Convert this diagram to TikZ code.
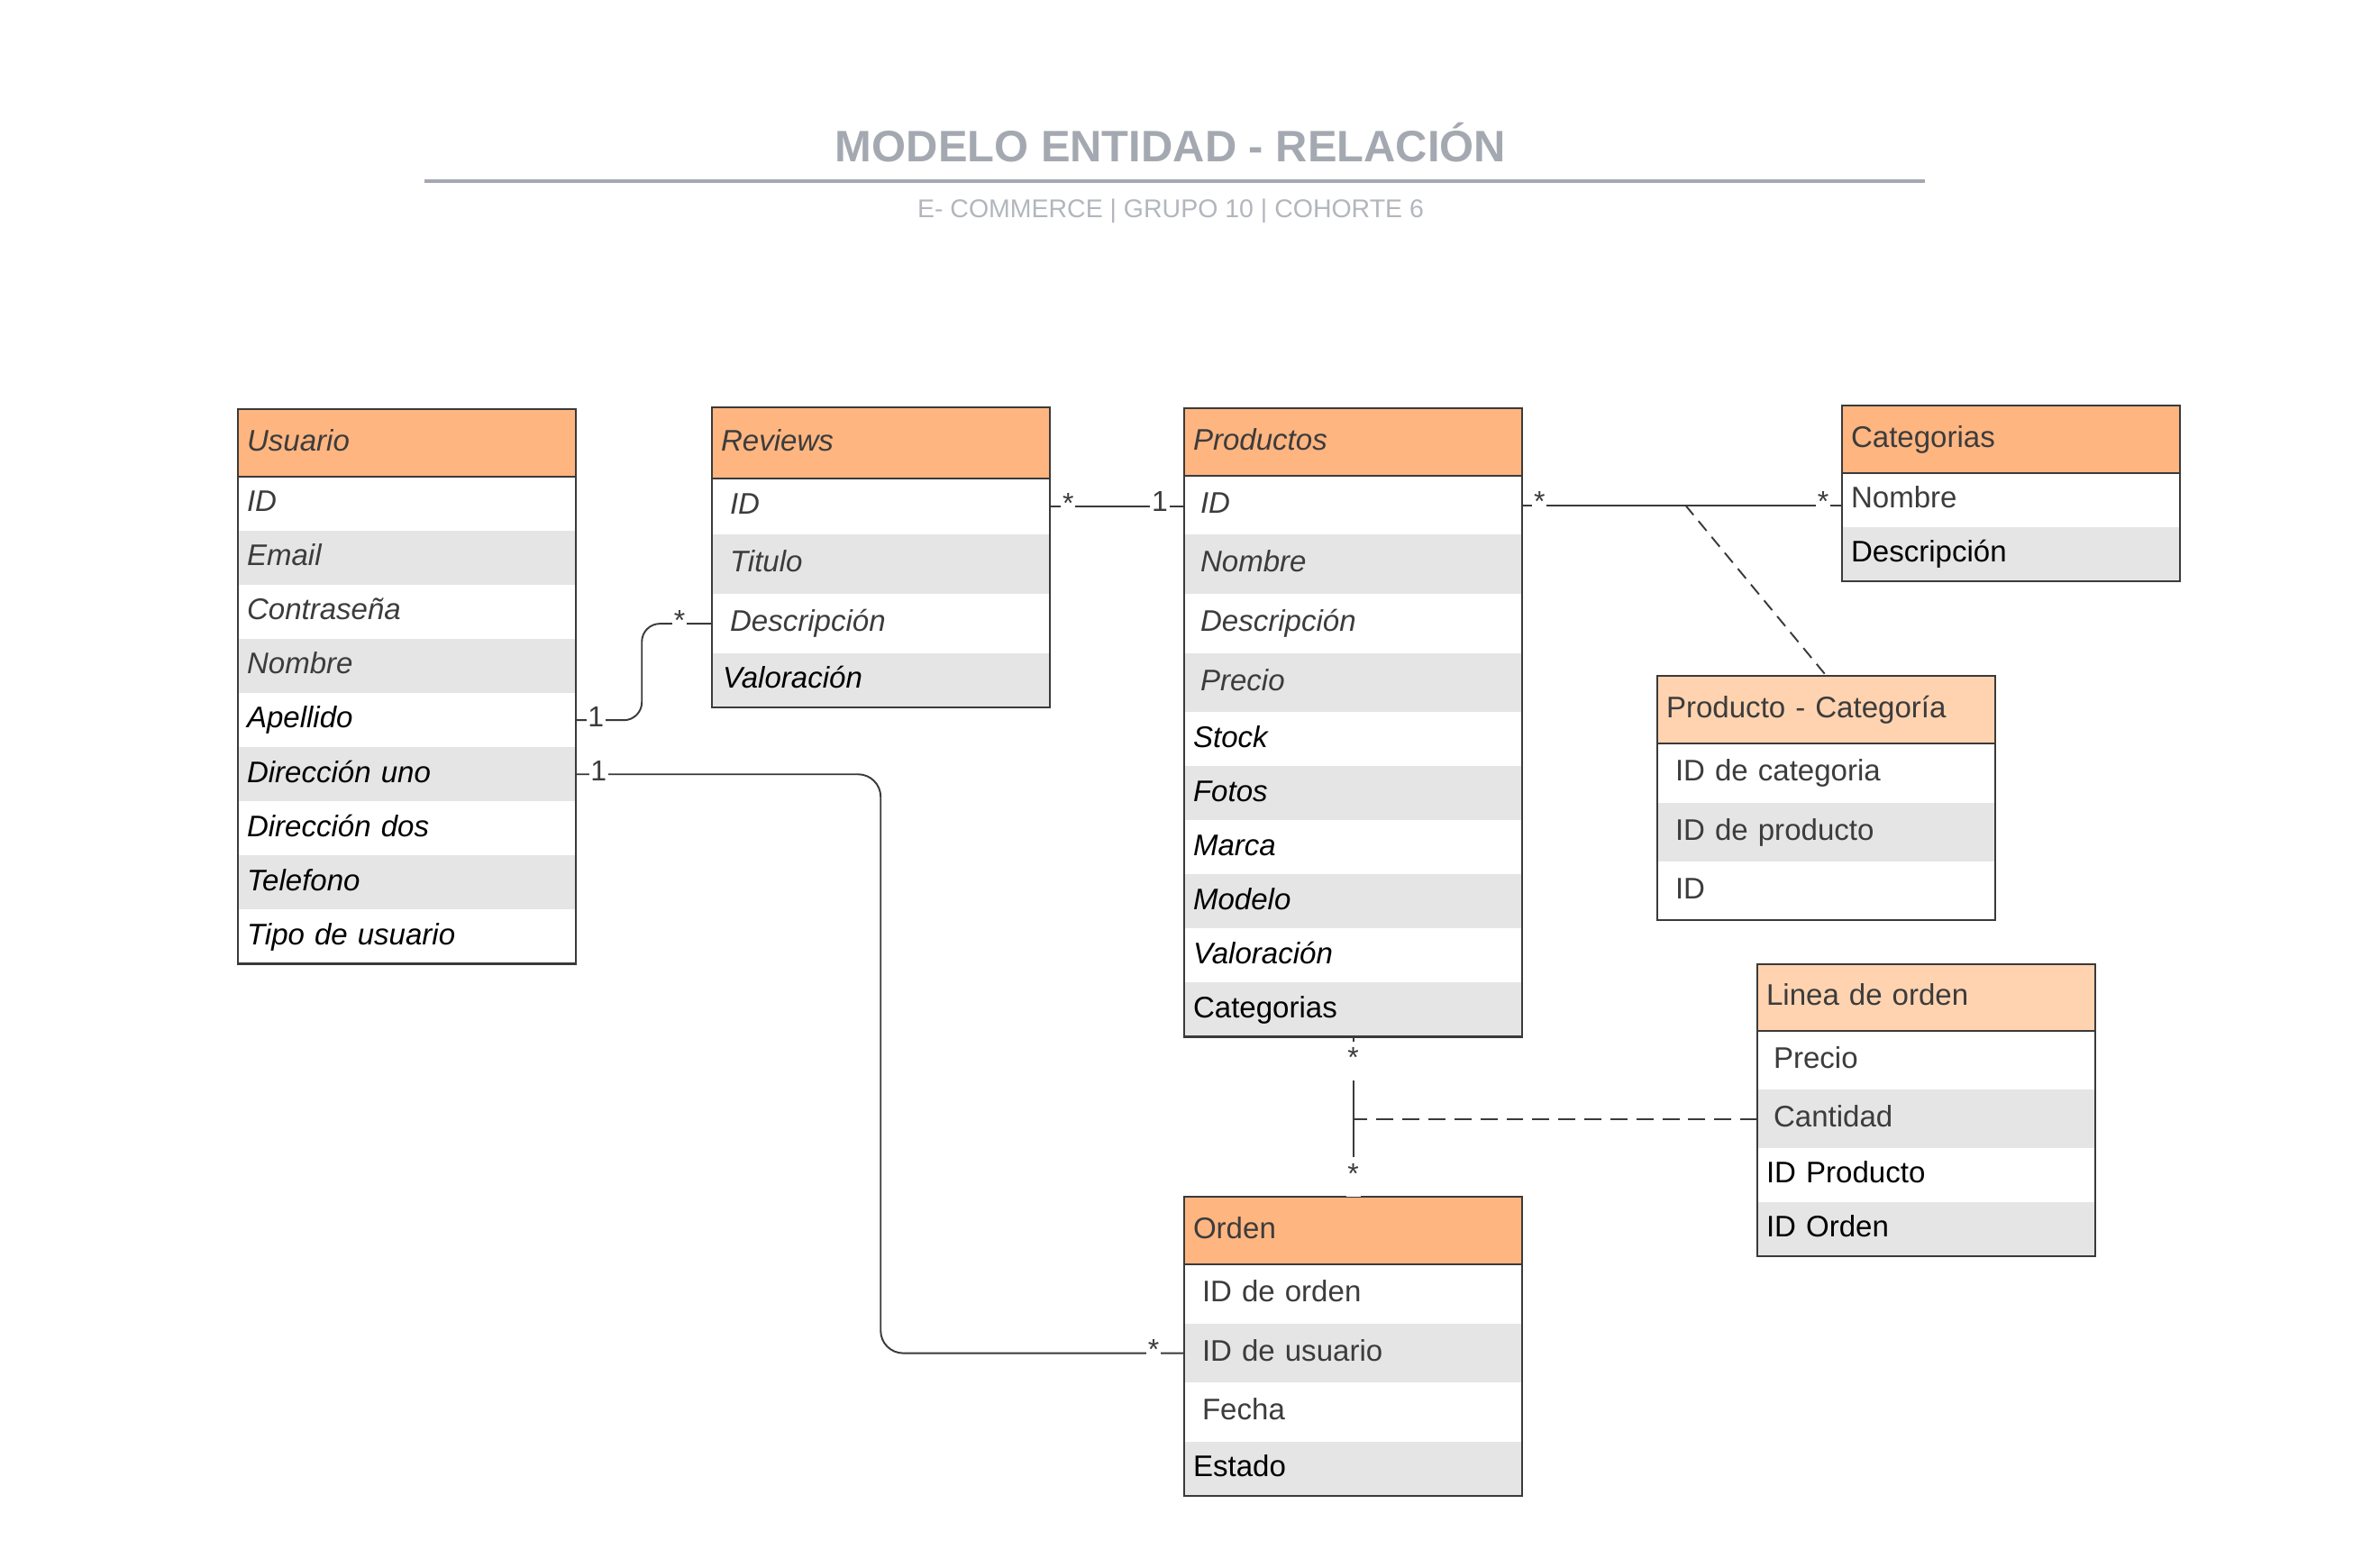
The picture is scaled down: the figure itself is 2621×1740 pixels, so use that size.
\documentclass[tikz,border=0pt]{standalone}
\usepackage{fontspec}
\setmainfont{Liberation Sans}
\usepackage{xcolor}
\usetikzlibrary{calc,positioning}
\definecolor{hdrorange}{HTML}{FFB580}
\definecolor{hdrlight}{HTML}{FFD3B0}
\definecolor{rowgray}{HTML}{E5E5E5}
\definecolor{linedark}{HTML}{3A3A3A}
\definecolor{txtdark}{HTML}{3C3C3C}
\definecolor{titlegray}{HTML}{A4A9B1}
\definecolor{subgray}{HTML}{B2B6BC}
\newcommand{\entfont}{\fontsize{9.4}{11}\selectfont}
\newcommand{\multfont}{\fontsize{9.1}{11}\selectfont}
\tikzset{%
	header/.style      = {draw=linedark, line width=0.7pt, fill=hdrorange, anchor=north west, outer sep=0pt, minimum height=0.75cm, inner ysep=0pt, inner xsep=0.1cm, text width=3.55cm, align=left, text height=0.75em, text depth=0.25em, text=txtdark, font=\entfont},
	headerlight/.style = {header, fill=hdrlight},
	field/.style       = {anchor=north west, outer sep=0pt, minimum height=0.6cm, inner ysep=0pt, inner xsep=0.1cm, text width=3.55cm, align=left, text height=0.75em, text depth=0.25em, font=\entfont},
	fieldgray/.style   = {field, fill=rowgray},
	ital/.style        = {font=\entfont\itshape},
	dk/.style          = {text=txtdark},
	pad12/.style       = {inner xsep=0.12cm, text width=3.51cm},
	pad18/.style       = {inner xsep=0.18cm, text width=3.39cm},
	pad20/.style       = {inner xsep=0.2cm, text width=3.35cm},
	ebox/.style        = {draw=linedark, line width=0.7pt},
	link/.style        = {draw=linedark, line width=0.55pt},
	assoc/.style       = {link, dash pattern=on 5.4pt off 2.8pt},
	mult/.style        = {fill=white, inner xsep=0.5pt, inner ysep=1pt, text height=0.72em, text depth=0.31em, text=txtdark, font=\multfont},
}
\begin{document}
\begin{tikzpicture}[x=0.01cm, y=-0.01cm]
	\useasboundingbox (0,0) rectangle (2621,1740);
	% title
	\node[font=\fontsize{13.9}{16}\selectfont\bfseries, text=titlegray, text height=0.72em, text depth=0pt] (title) at (1299,167) {MODELO ENTIDAD - RELACIÓN};
	\draw[titlegray, line width=1.3pt] (471,201) -- (2136,201);
	\node[font=\fontsize{8.1}{9}\selectfont, text=subgray, text height=0.72em, text depth=0pt] (subtitle) at (1299,229) {E- COMMERCE | GRUPO 10 | COHORTE 6};

	% Usuario
	\node[header, ital] (usu) at (264,454) {Usuario};
	\node[field, dk, ital] (usu-1) at (usu.south west) {ID};
	\node[fieldgray, dk, ital] (usu-2) at (usu-1.south west) {Email};
	\node[field, dk, ital] (usu-3) at (usu-2.south west) {Contraseña};
	\node[fieldgray, dk, ital] (usu-4) at (usu-3.south west) {Nombre};
	\node[field, ital] (usu-5) at (usu-4.south west) {Apellido};
	\node[fieldgray, ital] (usu-6) at (usu-5.south west) {Dirección uno};
	\node[field, ital] (usu-7) at (usu-6.south west) {Dirección dos};
	\node[fieldgray, ital] (usu-8) at (usu-7.south west) {Telefono};
	\node[field, ital] (usu-9) at (usu-8.south west) {Tipo de usuario};
	\draw[ebox] (usu.north west) rectangle (usu-9.south east);

	% Reviews
	\node[header, ital, minimum height=0.79cm] (rev) at (790,452) {Reviews};
	\node[field, dk, ital, pad20, minimum height=0.62cm] (rev-1) at (rev.south west) {ID};
	\node[fieldgray, dk, ital, pad20, minimum height=0.66cm] (rev-2) at (rev-1.south west) {Titulo};
	\node[field, dk, ital, pad20, minimum height=0.66cm] (rev-3) at (rev-2.south west) {Descripción};
	\node[fieldgray, ital, pad12] (rev-4) at (rev-3.south west) {Valoración};
	\draw[ebox] (rev.north west) rectangle (rev-4.south east);

	% Productos
	\node[header, ital] (prod) at (1314,453) {Productos};
	\node[field, dk, ital, pad18, minimum height=0.65cm] (prod-1) at (prod.south west) {ID};
	\node[fieldgray, dk, ital, pad18, minimum height=0.66cm] (prod-2) at (prod-1.south west) {Nombre};
	\node[field, dk, ital, pad18, minimum height=0.66cm] (prod-3) at (prod-2.south west) {Descripción};
	\node[fieldgray, dk, ital, pad18, minimum height=0.65cm] (prod-4) at (prod-3.south west) {Precio};
	\node[field, ital] (prod-5) at (prod-4.south west) {Stock};
	\node[fieldgray, ital] (prod-6) at (prod-5.south west) {Fotos};
	\node[field, ital] (prod-7) at (prod-6.south west) {Marca};
	\node[fieldgray, ital] (prod-8) at (prod-7.south west) {Modelo};
	\node[field, ital] (prod-9) at (prod-8.south west) {Valoración};
	\node[fieldgray] (prod-10) at (prod-9.south west) {Categorias};
	\draw[ebox] (prod.north west) rectangle (prod-10.south east);

	% Categorias
	\node[header] (cat) at (2044,450) {Categorias};
	\node[field, dk] (cat-1) at (cat.south west) {Nombre};
	\node[fieldgray] (cat-2) at (cat-1.south west) {Descripción};
	\draw[ebox] (cat.north west) rectangle (cat-2.south east);

	% Producto - Categoria
	\node[headerlight] (pc) at (1839,750) {Producto - Categoría};
	\node[field, dk, pad20, minimum height=0.66cm] (pc-1) at (pc.south west) {ID de categoria};
	\node[fieldgray, dk, pad20, minimum height=0.65cm] (pc-2) at (pc-1.south west) {ID de producto};
	\node[field, dk, pad20, minimum height=0.65cm] (pc-3) at (pc-2.south west) {ID};
	\draw[ebox] (pc.north west) rectangle (pc-3.south east);

	% Linea de orden
	\node[headerlight, minimum height=0.74cm] (lin) at (1950,1070) {Linea de orden};
	\node[field, dk, pad18, minimum height=0.65cm] (lin-1) at (lin.south west) {Precio};
	\node[fieldgray, dk, pad18, minimum height=0.65cm] (lin-2) at (lin-1.south west) {Cantidad};
	\node[field] (lin-3) at (lin-2.south west) {ID Producto};
	\node[fieldgray] (lin-4) at (lin-3.south west) {ID Orden};
	\draw[ebox] (lin.north west) rectangle (lin-4.south east);

	% Orden
	\node[header] (ord) at (1314,1328) {Orden};
	\node[field, dk, pad20, minimum height=0.66cm] (ord-1) at (ord.south west) {ID de orden};
	\node[fieldgray, dk, pad20, minimum height=0.65cm] (ord-2) at (ord-1.south west) {ID de usuario};
	\node[field, dk, pad20, minimum height=0.66cm] (ord-3) at (ord-2.south west) {Fecha};
	\node[fieldgray] (ord-4) at (ord-3.south west) {Estado};
	\draw[ebox] (ord.north west) rectangle (ord-4.south east);

	% relaciones
	\draw[link, rounded corners=0.2cm] (usu-5.east) -- ++(73,0) |- (rev-3.west);
	\draw[link, rounded corners=0.25cm] (usu-6.east) -- ++(338,0) |- (ord-2.west);
	\draw[link] (rev-1.east) -- (rev-1.east -| prod-1.west);
	\draw[link] (prod-1.east) -- (prod-1.east -| cat-1.west) coordinate[pos=0.51] (pcjoin);
	\draw[assoc, dash pattern=on 4pt off 2.5pt] (pcjoin) -- (pc.north);
	\draw[link] (prod-10.south) -- (ord.north) coordinate[pos=0.528] (oljoin);
	\draw[assoc] (lin-2.west) -- (lin-2.west -| oljoin);

	% multiplicidades
	\node[mult] (m-usurev) at ([xshift=0.22cm]usu-5.east) {1};
	\node[mult] (m-revusu) at ([xshift=-0.36cm]rev-3.west) {*};
	\node[mult] (m-usuord) at ([xshift=0.25cm]usu-6.east) {1};
	\node[mult] (m-ordusu) at ([xshift=-0.34cm]ord-2.west) {*};
	\node[mult] (m-revprod) at ([xshift=0.2cm]rev-1.east) {*};
	\node[mult] (m-prodrev) at ($(prod-1.west)+(-27,0)$) {1};
	\node[mult] (m-prodcat) at ([xshift=0.19cm]prod-1.east) {*};
	\node[mult] (m-catprod) at ($(prod-1.east -| cat-1.west)+(-21,0)$) {*};
	\node[mult] (m-prodord) at ([yshift=-0.27cm]prod-10.south) {*};
	\node[mult] (m-ordprod) at ([yshift=0.22cm]ord.north) {*};
\end{tikzpicture}
\end{document}
